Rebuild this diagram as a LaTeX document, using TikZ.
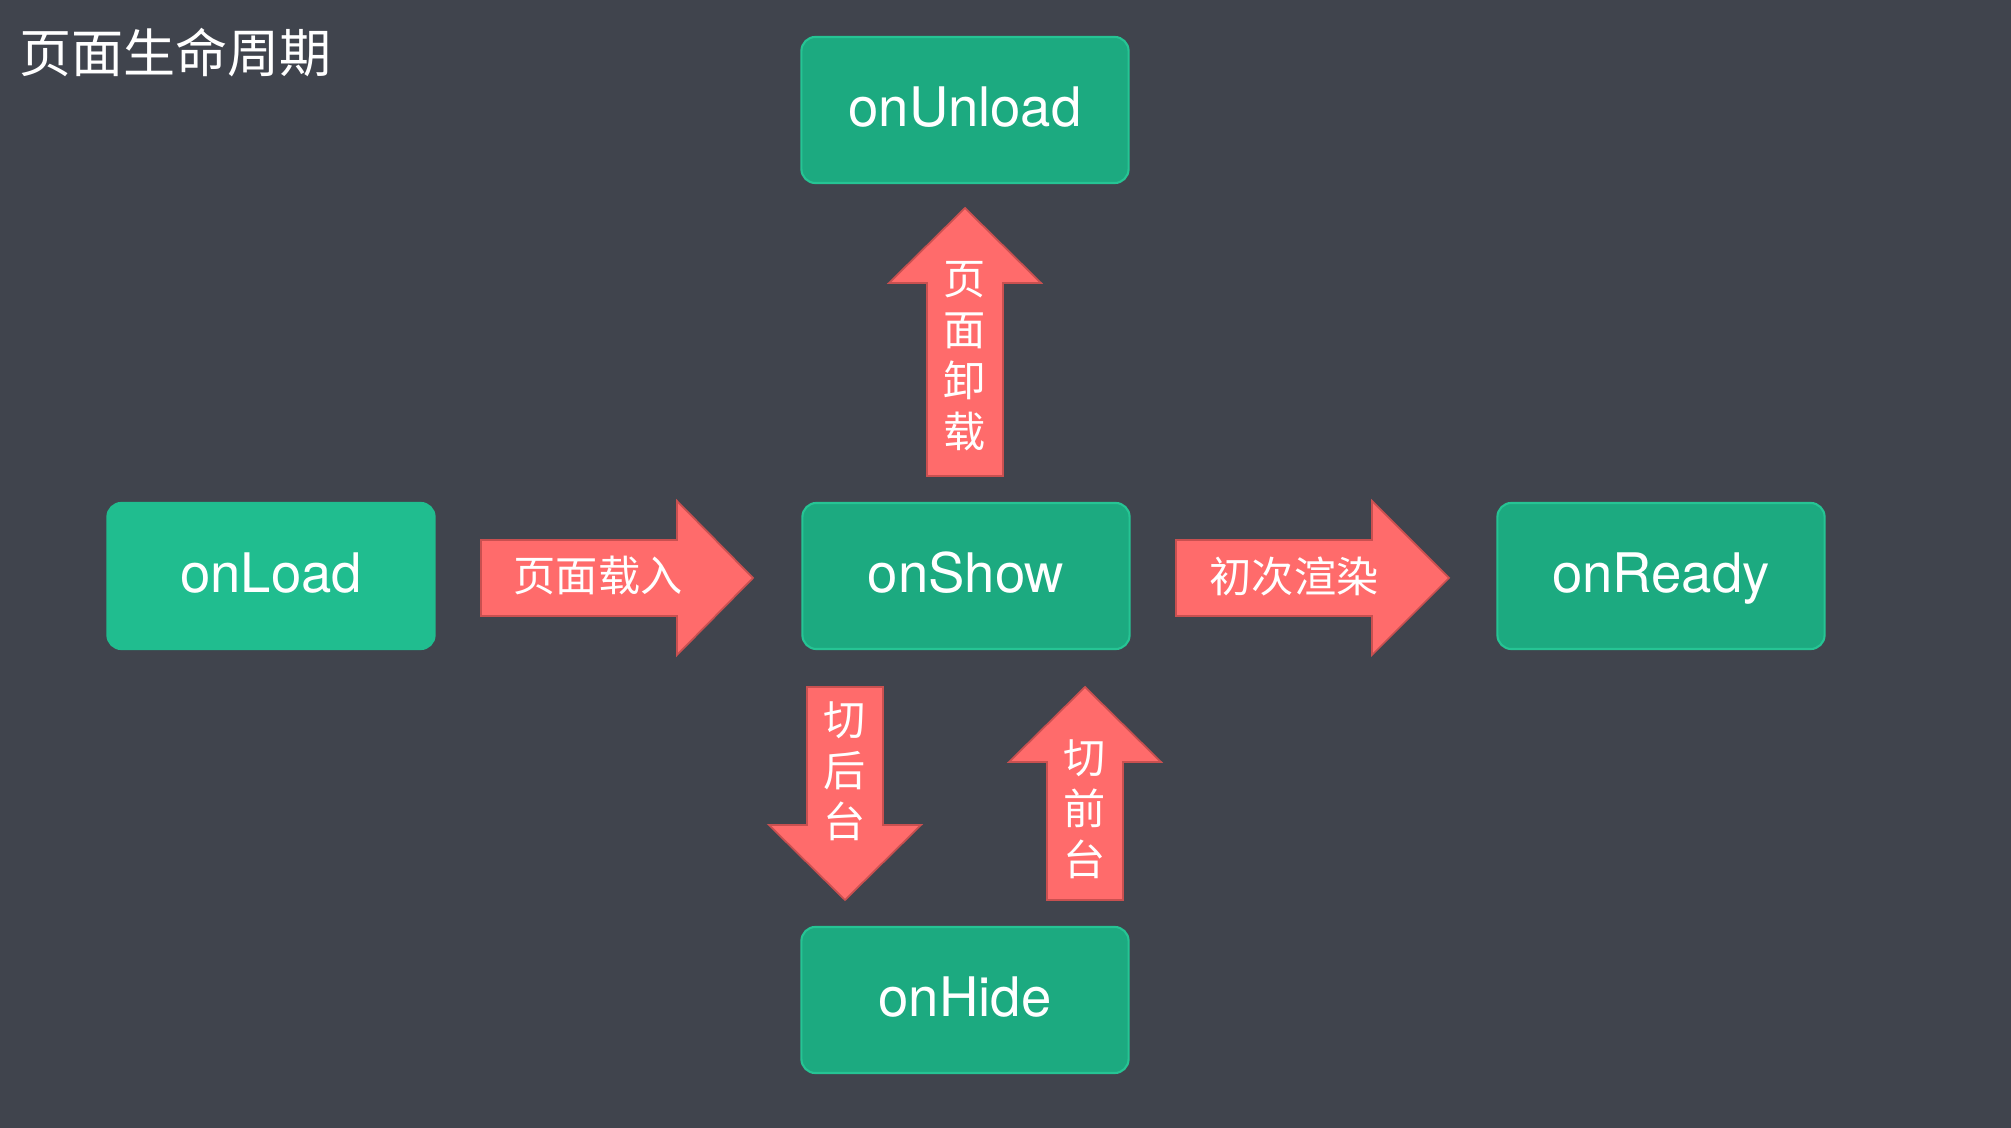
\documentclass[tikz,border=0pt]{standalone}
\usepackage{fontspec}
\usepackage{xcolor}
\usepackage{tikz}
\setmainfont{TeX Gyre Heros}
\newfontfamily\cjk{Noto Sans CJK SC}
\definecolor{bgdark}{HTML}{40444D}
\definecolor{mintgreen}{HTML}{20BD8F}
\definecolor{deepgreen}{HTML}{1CAA80}
\definecolor{greenline}{HTML}{26C494}
\definecolor{salmon}{HTML}{FF6B6B}
\definecolor{salmonline}{HTML}{C95050}
\tikzstyle{hookbox} = [draw=greenline, fill=deepgreen, line width=0.6pt,
rounded corners=0.14cm, minimum width=3.27cm, minimum height=1.46cm,
text height=11pt, text depth=1.4pt,
text=white, font=\fontsize{15.5}{18}\selectfont]
\tikzstyle{bigarrow} = [draw=salmonline, fill=salmon, line width=0.5pt]
\tikzstyle{arrowtext} = [text=white, font=\cjk\fontsize{12}{14.5}\selectfont,
align=center, inner sep=0pt]
% horizontal block arrow: y, tail, head base, tip
\newcommand{\harrow}[4]{%
\draw [bigarrow] (#2,#1-38) -- (#3,#1-38) -- (#3,#1-77) -- (#4,#1)
    -- (#3,#1+77) -- (#3,#1+38) -- (#2,#1+38) -- cycle;
}
% vertical block arrow: x, tail, head base, tip
\newcommand{\varrow}[4]{%
\draw [bigarrow] (#1-38,#2) -- (#1-38,#3) -- (#1-76,#3) -- (#1,#4)
    -- (#1+76,#3) -- (#1+38,#3) -- (#1+38,#2) -- cycle;
}
\begin{document}
\begin{tikzpicture}[x=0.01cm, y=-0.01cm]
        \fill [bgdark] (0,0) rectangle (2011,1128);
        \node [text=white, font=\cjk\fontsize{14.8}{17}\selectfont, anchor=west, inner sep=0pt]
            (title) at (19,53) {页面生命周期};

        \node [hookbox] (unload) at (965,110) {onUnload};
        \node [hookbox, fill=mintgreen, draw=mintgreen] (load) at (271,576) {onLoad};
        \node [hookbox] (show) at (966,576) {onShow};
        \node [hookbox] (ready) at (1661,576) {onReady};
        \node [hookbox] (hide) at (965,1000) {onHide};

        \harrow{578}{481}{677}{753}
        \node [arrowtext] (loadtxt) at (598,576) {页面载入};
        \harrow{578}{1176}{1372}{1449}
        \node [arrowtext] (readytxt) at (1294,576) {初次渲染};
        \varrow{965}{476}{283}{208}
        \node [arrowtext] (unloadtxt) at (965,356) {页\\面\\卸\\载};
        \varrow{845}{687}{825}{900}
        \node [arrowtext] (hidetxt) at (845,771) {切\\后\\台};
        \varrow{1085}{900}{762}{687}
        \node [arrowtext] (showtxt) at (1085,809) {切\\前\\台};
    \end{tikzpicture}
\end{document}
